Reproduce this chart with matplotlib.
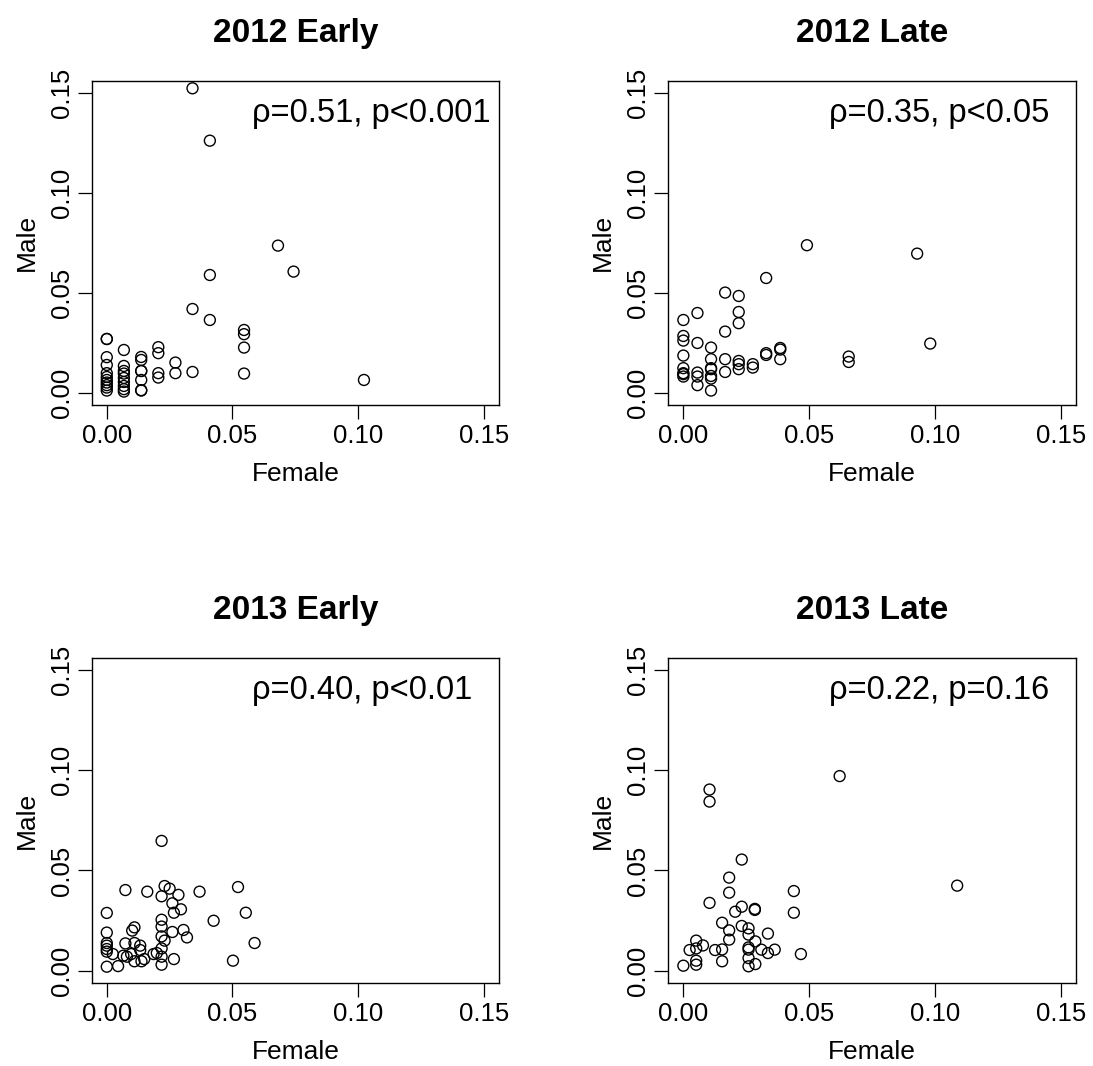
import matplotlib
matplotlib.use("Agg")
import matplotlib.pyplot as plt

plt.rcParams['font.family'] = ['Liberation Sans', 'DejaVu Sans']

# 2012 Early
f12e = [0, 0, 0, 0, 0, 0, 0, 0, 0, 0, 0,
        0.0068, 0.0068, 0.0068, 0.0068, 0.0068, 0.0068, 0.0068, 0.0068, 0.0068,
        0.0137, 0.0137, 0.0137, 0.0137, 0.0137, 0.0137, 0.0137,
        0.0205, 0.0205, 0.0205, 0.0205,
        0.0273, 0.0273,
        0.0341, 0.0341, 0.0341,
        0.041, 0.041, 0.041,
        0.0546, 0.0546, 0.0546, 0.0546,
        0.0681, 0.0743, 0.1023]
m12e = [0.0268, 0.0268, 0.0177, 0.0138, 0.0097, 0.0078, 0.0063, 0.005, 0.0037, 0.0025, 0.001,
        0.0213, 0.0133, 0.0108, 0.0095, 0.0073, 0.0053, 0.0033, 0.0017, 0.0005,
        0.0178, 0.0163, 0.0108, 0.0108, 0.0063, 0.0012, 0.0010,
        0.0227, 0.0197, 0.0097, 0.0075,
        0.015, 0.0097,
        0.1522, 0.0418, 0.0103,
        0.126, 0.0588, 0.0363,
        0.0313, 0.0292, 0.0225, 0.0095,
        0.0735, 0.0605, 0.0063]

# 2012 Late
f12l = [0, 0, 0, 0, 0, 0, 0, 0,
        0.0056, 0.0056, 0.0056, 0.0056, 0.0056,
        0.011, 0.011, 0.011, 0.011, 0.011, 0.011, 0.011,
        0.0166, 0.0166, 0.0166, 0.0166,
        0.022, 0.022, 0.022, 0.022, 0.022, 0.022,
        0.0276, 0.0276,
        0.0329, 0.0329, 0.0329,
        0.0385, 0.0385, 0.0385,
        0.0491, 0.0657, 0.0657, 0.0929, 0.0981]
m12l = [0.0363, 0.0283, 0.026, 0.0185, 0.0122, 0.0092, 0.008, 0.0097,
        0.0398, 0.0248, 0.01, 0.008, 0.0037,
        0.0225, 0.0167, 0.0117, 0.0083, 0.007, 0.001, 0.0122,
        0.05, 0.0305, 0.0167, 0.0103,
        0.0483, 0.0403, 0.0347, 0.0158, 0.0142, 0.0117,
        0.0142, 0.0125,
        0.0573, 0.0197, 0.0188,
        0.0223, 0.0215, 0.0167,
        0.0737, 0.018, 0.0153, 0.0695, 0.0245]

# 2013 Early
f13e = [0.0218, 0.0074, 0.0161, 0.0218, 0.023, 0.025, 0.0285, 0.0261, 0.0295, 0.0267,
        0.0369, 0.0522, 0.0553, 0.0425, 0.0588, 0.0502,
        0, 0, 0, 0, 0, 0, 0,
        0.0024, 0.0045, 0.0074, 0.0066, 0.008, 0.0097, 0.0101, 0.011, 0.011, 0.011,
        0.0133, 0.0133, 0.0138, 0.0149, 0.0186, 0.0199,
        0.0218, 0.0218, 0.0218, 0.0218, 0.0218, 0.0218,
        0.023, 0.0261, 0.0267, 0.0305, 0.0319]
m13e = [0.0647, 0.0402, 0.0394, 0.0371, 0.0422, 0.0409, 0.0378, 0.0336, 0.0306, 0.0289,
        0.0394, 0.0417, 0.0289, 0.0249, 0.0138, 0.005,
        0.0288, 0.019, 0.0138, 0.0125, 0.0108, 0.0095, 0.002,
        0.0083, 0.0023, 0.0136, 0.0075, 0.007, 0.0083, 0.02, 0.0216, 0.0138, 0.0047,
        0.0125, 0.0103, 0.0047, 0.0058, 0.0083, 0.0088,
        0.0111, 0.007, 0.003, 0.0254, 0.022, 0.0171,
        0.015, 0.0193, 0.0058, 0.0203, 0.0166]

# 2013 Late
f13l = [0.0621, 0.0104, 0.0104, 0.1088, 0.0232, 0.0182, 0.0182, 0.0439, 0.0439, 0.0104,
        0.0232, 0.0206, 0.0284, 0.0284, 0.0154, 0.0232, 0.0259, 0.0182, 0.0259, 0.0336,
        0.0182, 0.0286, 0.0051, 0.0078, 0.0051, 0.0025, 0.0126, 0.0154, 0.0259, 0.0259,
        0.031, 0.0336, 0.0363, 0.0467, 0.0259, 0.0286, 0.0259, 0.0154, 0.0051, 0.0051, 0]
m13l = [0.097, 0.0903, 0.0843, 0.0424, 0.0554, 0.0464, 0.0389, 0.0397, 0.0289, 0.0338,
        0.0319, 0.0294, 0.0308, 0.0303, 0.0239, 0.0223, 0.0211, 0.0201, 0.018, 0.0185,
        0.0155, 0.0146, 0.015, 0.0126, 0.0111, 0.0103, 0.0103, 0.0106, 0.0116, 0.0105,
        0.0105, 0.0088, 0.0105, 0.0083, 0.0063, 0.0033, 0.0022, 0.0047, 0.005, 0.003, 0.0025]

titles = ["2012 Early", "2012 Late", "2013 Early", "2013 Late"]
stats = ["ρ=0.51, p<0.001", "ρ=0.35, p<0.05", "ρ=0.40, p<0.01", "ρ=0.22, p=0.16"]
xs = [f12e, f12l, f13e, f13l]
ys = [m12e, m12l, m13e, m13l]
ticks = [0.00, 0.05, 0.10, 0.15]

fig = plt.figure(figsize=(10.93, 10.66), dpi=100)
boxes = [[0.0839, 0.6205, 0.3726, 0.3038],
         [0.6114, 0.6205, 0.3730, 0.3038],
         [0.0839, 0.0781, 0.3726, 0.3049],
         [0.6114, 0.0781, 0.3730, 0.3049]]

for i in range(4):
    ax = fig.add_axes(boxes[i])
    ax.scatter(xs[i], ys[i], s=62, facecolors='none', edgecolors='black', linewidths=1.0)
    pad = 0.04 * 0.15
    ax.set_xlim(-pad, 0.15 + pad)
    ax.set_ylim(-pad, 0.15 + pad)
    ax.set_xticks(ticks)
    ax.set_yticks(ticks)
    ax.set_xticklabels(["%.2f" % t for t in ticks])
    ax.set_yticklabels(["%.2f" % t for t in ticks], rotation=90, va='center')
    ax.tick_params(axis='both', length=10, width=0.9, labelsize=18.5, direction='out')
    ax.tick_params(axis='x', pad=3.7)
    ax.tick_params(axis='y', pad=3)
    for sp in ax.spines.values():
        sp.set_linewidth(1.0)
    ax.set_title(titles[i], fontsize=24, fontweight='bold', pad=28)
    ax.set_xlabel("Female", fontsize=19)
    ax.set_ylabel("Male", fontsize=19)
    ax.xaxis.set_label_coords(0.5, -0.235)
    ax.xaxis.label.set_verticalalignment('baseline')
    ax.yaxis.set_label_coords(-0.143, 0.5)
    ax.yaxis.label.set_verticalalignment('baseline')
    ax.text(0.394, 0.874, stats[i], transform=ax.transAxes, fontsize=23.5,
            ha='left', va='baseline')

fig.savefig("out.png", dpi=100)
